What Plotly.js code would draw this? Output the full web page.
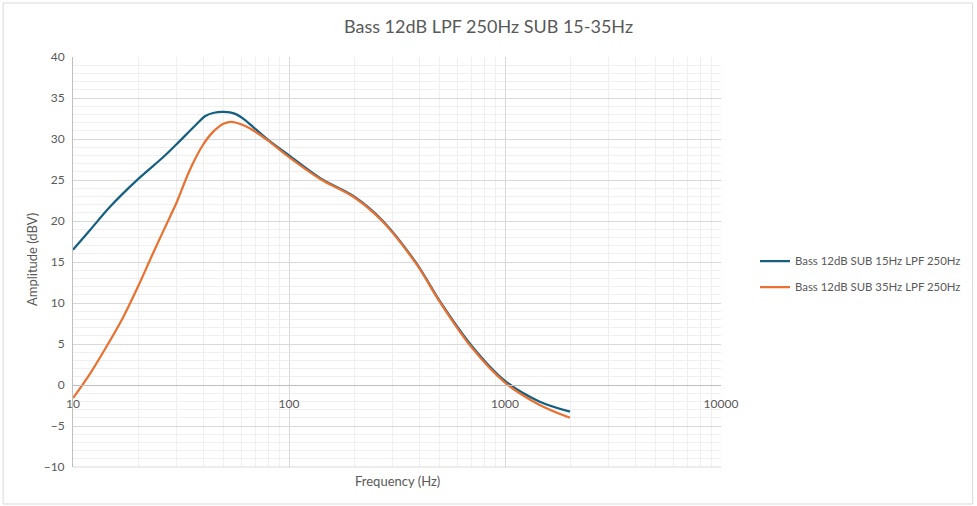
<!DOCTYPE html>
<html>
<head>
<meta charset="utf-8">
<script src="https://cdn.plot.ly/plotly-3.0.1.min.js"></script>
<style>html,body{margin:0;padding:0;background:#fff}#chart{width:977px;height:506px}</style>
</head>
<body>
<div id="chart"></div>
<script>
var freq15 = [10, 12, 14.8, 20, 26.2, 30, 37.3, 41, 45, 50, 56, 62, 70, 80, 100, 140, 200, 270, 390, 500, 700, 1000, 1440, 2000];
var amp15  = [16.5, 18.9, 21.7, 25.1, 27.8, 29.3, 31.8, 32.8, 33.2, 33.3, 33.1, 32.4, 31.2, 29.9, 28.0, 25.2, 23.0, 20.1, 14.8, 10.2, 4.8, 0.5, -2.0, -3.25];
var freq35 = [10, 12, 14.3, 17.1, 20, 23.5, 28.1, 30, 34.7, 40, 44.6, 50, 54.2, 60, 65.8, 80, 100, 140, 200, 270, 390, 500, 700, 1000, 1440, 2000];
var amp35  = [-1.6, 1.4, 4.7, 8.3, 12.0, 16.1, 20.5, 22.1, 26.2, 29.3, 30.9, 31.9, 32.1, 31.8, 31.3, 29.8, 27.8, 25.1, 22.9, 20.0, 14.7, 10.1, 4.6, 0.3, -2.4, -4.0];
var seriesNames = ['Bass 12dB SUB 15Hz LPF 250Hz', 'Bass 12dB SUB 35Hz LPF 250Hz'];
var xTickVals = [10, 100, 1000, 10000];
var xTickText = ['10', '100', '1000', '10000'];
var xMinorVals = [20, 30, 40, 50, 60, 70, 80, 90, 200, 300, 400, 500, 600, 700, 800, 900, 2000, 3000, 4000, 5000, 6000, 7000, 8000, 9000];

var grey = '#595959';
var fontFam = 'Lato, "Open Sans", sans-serif';

var traces = [
  {x: freq15, y: amp15, name: seriesNames[0], mode: 'lines', legendgroup: 'a',
   line: {color: '#156082', width: 2.25, shape: 'spline', smoothing: 0.9}},
  {x: freq35, y: amp35, name: seriesNames[1], mode: 'lines', legendgroup: 'b',
   line: {color: '#E97132', width: 2.25, shape: 'spline', smoothing: 0.9}}
];

var W = 649, H = 410, L = 73, T = 57;
function px(x){ return (x - L) / W; }
function py(y){ return (T + H - y) / H; }

var layout = {
  width: 977, height: 506,
  margin: {l: L, r: 977 - L - W, t: T, b: 506 - T - H},
  paper_bgcolor: '#fff', plot_bgcolor: '#fff',
  font: {family: fontFam, color: grey, size: 11},
  title: {text: 'Bass 12dB LPF 250Hz SUB 15-35Hz', font: {size: 18, color: grey, family: fontFam},
          x: 0.5, xref: 'container', xanchor: 'center', y: 1 - 27/506, yanchor: 'middle'},
  showlegend: true,
  legend: {x: px(755), y: py(274), xanchor: 'left', yanchor: 'middle', traceorder: 'grouped',
           font: {size: 11.4, color: grey}, bgcolor: 'rgba(0,0,0,0)', tracegroupgap: 7, itemwidth: 30},
  xaxis: {type: 'log', range: [1, 4], anchor: 'free', position: 0.2,
          tickmode: 'array', tickvals: xTickVals, ticktext: xTickText,
          ticks: '', ticklabelstandoff: 8, showline: true, linecolor: '#bfbfbf', linewidth: 1,
          showgrid: true, gridcolor: '#d9d9d9', gridwidth: 1, zeroline: false,
          tickfont: {size: 12, color: grey},
          minor: {tickmode: 'array', tickvals: xMinorVals,
                  showgrid: true, gridcolor: '#efefef', gridwidth: 1, ticks: ''}},
  yaxis: {range: [-10, 40], dtick: 5, tick0: 0, ticks: '', ticklabelstandoff: 5,
          showline: true, linecolor: '#bfbfbf', linewidth: 1,
          showgrid: true, gridcolor: '#d9d9d9', gridwidth: 1, zeroline: false,
          tickfont: {size: 12, color: grey},
          minor: {dtick: 1, showgrid: true, gridcolor: '#efefef', gridwidth: 1, ticks: ''}},
  annotations: [
    {text: 'Frequency (Hz)', xref: 'paper', yref: 'paper', x: px(398), y: py(481),
     xanchor: 'center', yanchor: 'middle', showarrow: false, font: {size: 13, color: grey}},
    {text: 'Amplitude (dBV)', xref: 'paper', yref: 'paper', x: px(32), y: py(260),
     xanchor: 'center', yanchor: 'middle', textangle: -90, showarrow: false, font: {size: 13, color: grey}}
  ],
  shapes: [
    {type: 'rect', xref: 'paper', yref: 'paper', x0: px(3), x1: px(974), y0: py(504), y1: py(3),
     line: {color: '#d9d9d9', width: 1}, fillcolor: 'rgba(0,0,0,0)', layer: 'below'},
    {type: 'line', xref: 'paper', yref: 'paper', x0: 0, x1: 1, y0: 0, y1: 0,
     line: {color: '#d9d9d9', width: 1}}
  ]
};

Plotly.newPlot('chart', traces, layout, {displayModeBar: false, staticPlot: true});
</script>
</body>
</html>
